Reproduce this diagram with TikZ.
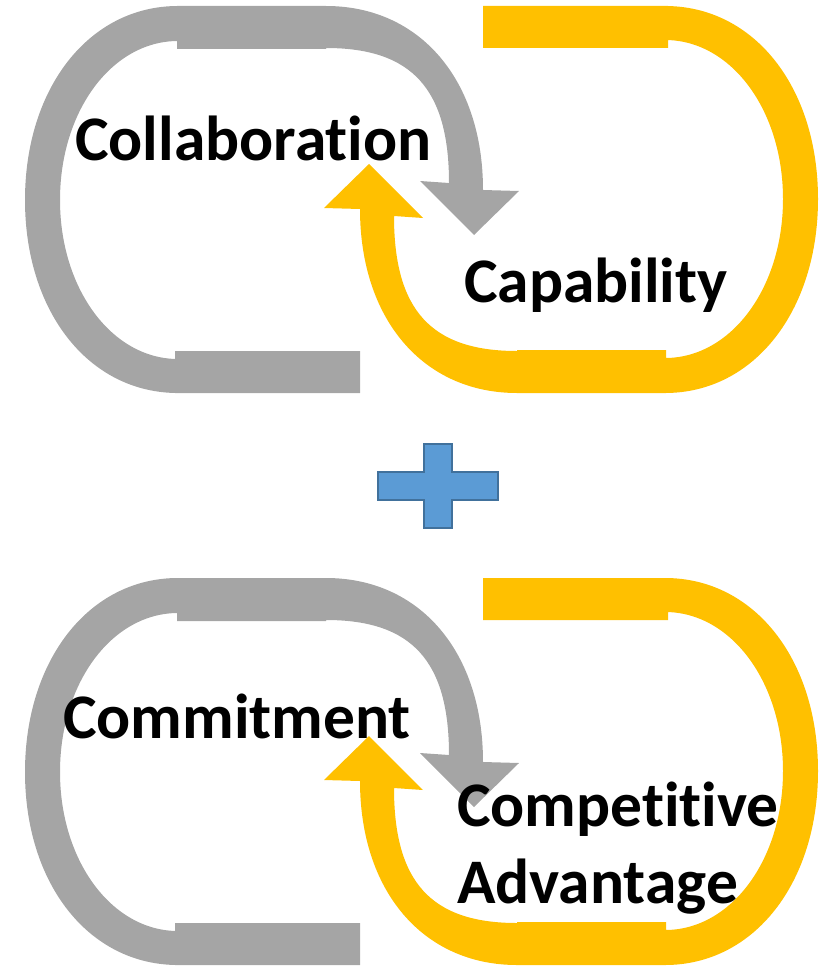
\documentclass[tikz,border=0pt]{standalone}
\usepackage{fontspec}
\setmainfont[Ligatures=NoCommon]{Carlito}
\definecolor{loopgrey}{HTML}{A5A5A5}
\definecolor{loopgold}{HTML}{FFC000}
\definecolor{plusfill}{HTML}{5B9BD5}
\definecolor{plusline}{HTML}{41719C}
\newcommand\halfloop{%
  (178,6) .. controls (89,6) and (25,88) .. (25,200)
  .. controls (25,312) and (89,393) .. (178,393)
  -- (178,359) .. controls (112,359) and (60,289) .. (60,200)
  .. controls (60,111) and (112,41) .. (178,41) -- cycle
  (177,6) rectangle (326,49)
  (175,351) rectangle (360,393)
  (326,6) .. controls (420,6) and (483,80) .. (483,190)
  -- (519,191) -- (474,235) -- (420,181) -- (449,183)
  .. controls (449,89) and (412,48) .. (326,48) -- cycle}
\tikzset{
  greyloop/.style={fill=loopgrey, draw=none},
  goldloop/.style={fill=loopgold, draw=none},
  label/.style={font=\fontsize{63.5}{77}\selectfont\bfseries, text=black, inner sep=0pt, anchor=base west},
  plus/.style={fill=plusfill, draw=plusline, line width=2.5pt, line join=miter}
}
\begin{document}
\begin{tikzpicture}[x=1pt,y=-1pt]
\useasboundingbox (0,0) rectangle (830,966);
% top pair
\begin{scope}
  \fill[greyloop] \halfloop;
  \begin{scope}[rotate around={180:(421.5,199.5)}]
    \fill[goldloop] \halfloop;
  \end{scope}
\end{scope}
% bottom pair
\begin{scope}[shift={(0,572)}]
  \fill[greyloop] \halfloop;
  \begin{scope}[rotate around={180:(421.5,199.5)}]
    \fill[goldloop] \halfloop;
  \end{scope}
\end{scope}
% plus sign
\draw[plus] (424,444) -- (452,444) -- (452,472) -- (498,472) -- (498,500)
  -- (452,500) -- (452,528) -- (424,528) -- (424,500) -- (378,500)
  -- (378,472) -- (424,472) -- cycle;
% labels
\node[label] (collab) at (75,160) {Collaboration};
\node[label] (capab) at (464,302) {Capability};
\node[label] (commit) at (63,738) {Commitment};
\node[label, align=left] (compadv) at (457,903) {Competitive\\Advantage};
\end{tikzpicture}
\end{document}
